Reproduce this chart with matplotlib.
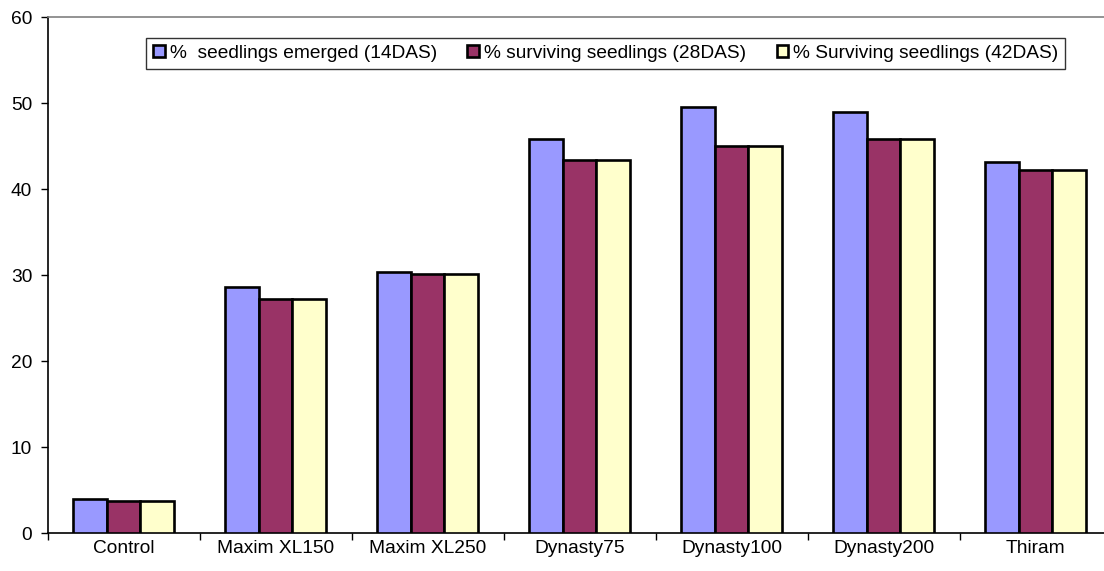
import matplotlib
matplotlib.use("Agg")
import matplotlib.pyplot as plt
import numpy as np

plt.rcParams['font.family'] = ['Liberation Sans', 'DejaVu Sans']

categories = ["Control", "Maxim XL150", "Maxim XL250", "Dynasty75",
              "Dynasty100", "Dynasty200", "Thiram"]
emerged_14das = [4.0, 28.6, 30.4, 45.9, 49.6, 49.0, 43.2]
surviving_28das = [3.7, 27.3, 30.1, 43.4, 45.0, 45.9, 42.2]
surviving_42das = [3.7, 27.3, 30.1, 43.4, 45.0, 45.9, 42.2]
series_labels = ["%  seedlings emerged (14DAS)",
                 "% surviving seedlings (28DAS)",
                 "% Surviving seedlings (42DAS)"]
colors = ["#9999ff", "#993366", "#ffffcc"]

FS = 13.8

fig = plt.figure(figsize=(11.04, 5.71), dpi=100)
W, H = 1104, 571
left, bottom, top = 47.5, 533.3, 17.3
cat_w = 152.0
ax = fig.add_axes([left / W, (H - bottom) / H, 7 * cat_w / W, (bottom - top) / H])

x = np.arange(len(categories))
bw = 1.0 / 4.5
for i, (vals, lab, c) in enumerate(zip([emerged_14das, surviving_28das, surviving_42das],
                                        series_labels, colors)):
    ax.bar(x + (i - 1) * bw, vals, width=bw, color=c, edgecolor="black",
           linewidth=1.9, label=lab, zorder=3)

ax.set_xlim(-0.5, len(categories) - 0.5)
ax.set_ylim(0, 60)
ax.set_yticks(range(0, 61, 10))
ax.set_xticks(np.arange(-0.5, len(categories) + 0.5, 1))
ax.set_xticklabels([])
ax.set_xticks(x, minor=True)
ax.set_xticklabels(categories, minor=True)
ax.tick_params(axis="x", which="minor", length=0, pad=5, labelsize=FS)
ax.tick_params(axis="x", which="major", length=5, width=1, direction="out")
ax.tick_params(axis="y", length=5, width=1, direction="out", labelsize=FS, pad=6)

for s in ["left", "bottom"]:
    ax.spines[s].set_color("black")
    ax.spines[s].set_linewidth(1.2)
ax.spines["top"].set_color("#808080")
ax.spines["top"].set_linewidth(1.2)
ax.spines["right"].set_visible(False)

leg = ax.legend(loc="upper left", ncol=3, frameon=True, fancybox=False,
                edgecolor="black", fontsize=FS, handlelength=0.6, handleheight=0.6,
                handletextpad=0.25, columnspacing=1.6, borderpad=0.38,
                borderaxespad=0,
                bbox_to_anchor=((146 - left) / (7 * cat_w), (bottom - 37.5) / (bottom - top)))
leg.get_frame().set_linewidth(1.0)

fig.savefig("out.png", dpi=100)
